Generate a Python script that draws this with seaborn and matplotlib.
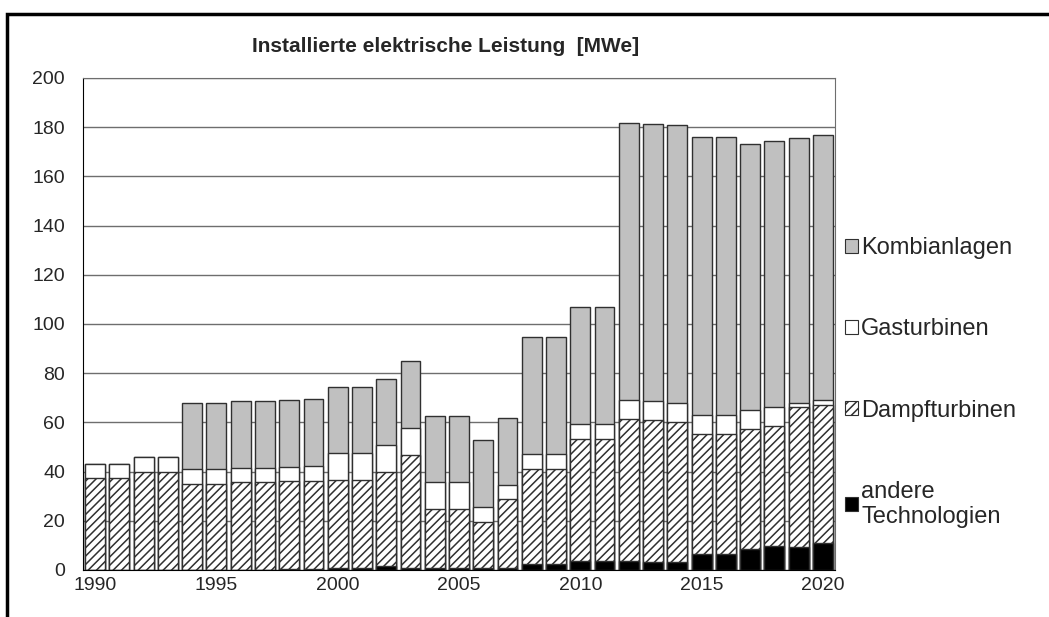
import numpy as np
import pandas as pd
import seaborn as sns
import matplotlib.pyplot as plt
from matplotlib.patches import Patch, Rectangle

# values (MWe)
years = list(range(1990, 2021))
andere = [0, 0, 0, 0, 0, 0, 0, 0, 0.4, 0.5, 0.7, 0.7, 1.5, 1.0, 0.9, 0.9, 0.8, 0.8,
          2.4, 2.4, 3.5, 3.5, 3.7, 3.3, 3.3, 6.5, 6.5, 8.5, 9.8, 9.5, 11.0]
dampf = [37.4, 37.4, 39.8, 39.8, 35.1, 35.1, 35.6, 35.6, 35.6, 35.8, 35.8, 35.8, 38.2, 45.7,
         23.8, 23.8, 18.8, 27.9, 38.7, 38.7, 49.7, 49.7, 57.5, 57.5, 57.0, 48.6, 48.6, 48.8,
         48.7, 56.8, 56.2]
gas = [5.8, 5.8, 6.1, 6.1, 6.0, 6.0, 6.0, 6.0, 5.9, 6.0, 10.9, 10.9, 11.0, 10.9, 10.9, 10.9,
       6.0, 6.0, 5.9, 5.9, 6.0, 6.0, 7.8, 7.8, 7.7, 7.8, 7.8, 7.7, 7.8, 1.6, 1.8]
kombi = [0, 0, 0, 0, 26.9, 26.9, 27.1, 27.1, 27.1, 27.1, 27.1, 27.1, 26.9, 27.2, 27.1, 27.1,
         27.1, 27.0, 47.8, 47.8, 47.8, 47.8, 112.8, 112.8, 112.7, 113.0, 113.0, 108.0, 107.9,
         107.9, 107.8]
tick_years = [1990, 1995, 2000, 2005, 2010, 2015, 2020]

df = pd.DataFrame({'year': [str(y) for y in years], 'andere': andere, 'dampf': dampf,
                   'gas': gas, 'kombi': kombi})
df['c_andere'] = df['andere']
df['c_dampf'] = df['c_andere'] + df['dampf']
df['c_gas'] = df['c_dampf'] + df['gas']
df['c_kombi'] = df['c_gas'] + df['kombi']

sns.set_style('white')
plt.rcParams['font.family'] = ['Liberation Sans', 'DejaVu Sans']
plt.rcParams['hatch.color'] = '#333333'
plt.rcParams['hatch.linewidth'] = 1.1

fig = plt.figure(figsize=(10.49, 6.17), dpi=100)
ax = fig.add_axes([83 / 1049, 1 - 570 / 617, (835 - 83) / 1049, (570 - 78) / 617])

edge = '#303030'
# overlay cumulative totals, tallest first
layers = [('c_kombi', '#c0c0c0', None), ('c_gas', 'white', None),
          ('c_dampf', 'white', '////'), ('c_andere', 'black', None)]
for col, colr, hatch in layers:
    sns.barplot(data=df, x='year', y=col, color=colr, saturation=1, width=0.82,
                edgecolor=edge, linewidth=1, hatch=hatch, ax=ax)

ax.set_ylim(0, 200)
ax.set_yticks(range(0, 201, 20))
ax.set_xlim(-0.5, len(years) - 0.5)
ax.set_xticks([years.index(y) for y in tick_years])
ax.set_xticklabels([str(y) for y in tick_years])
ax.tick_params(axis='both', length=0, labelsize=14)
ax.tick_params(axis='x', pad=5)
ax.tick_params(axis='y', pad=13)
ax.set_xlabel('')
ax.set_ylabel('')
ax.yaxis.grid(True, color='#6e6e6e', lw=1)
ax.set_axisbelow(True)
for s in ['top', 'right']:
    ax.spines[s].set_color('#6e6e6e')
for s in ['left', 'bottom']:
    ax.spines[s].set_color('black')

fig.text(446 / 1049, 1 - 46 / 617, 'Installierte elektrische Leistung  [MWe]',
         ha='center', va='center', fontsize=15, fontweight='bold')

handles = [Patch(facecolor='#c0c0c0', edgecolor=edge, lw=0.8),
           Patch(facecolor='white', edgecolor=edge, lw=0.8),
           Patch(facecolor='white', edgecolor=edge, lw=0.8, hatch='////'),
           Patch(facecolor='black', edgecolor=edge, lw=0.8)]
labels = ['Kombianlagen', 'Gasturbinen', 'Dampfturbinen', 'andere\nTechnologien']
fig.legend(handles, labels, loc='upper left', bbox_to_anchor=(836 / 1049, 1 - 228 / 617),
           frameon=False, fontsize=17, handlelength=0.55, handleheight=0.55,
           handletextpad=0.12, labelspacing=2.5, borderaxespad=0)

# outer frame, cut off at right and bottom like the reference
fig.add_artist(Rectangle((7 / 1049, -0.2), 1.2, 1.2 - 14 / 617, fill=False,
                         lw=2.5, edgecolor='black', transform=fig.transFigure))

fig.savefig('out.png', dpi=100)
